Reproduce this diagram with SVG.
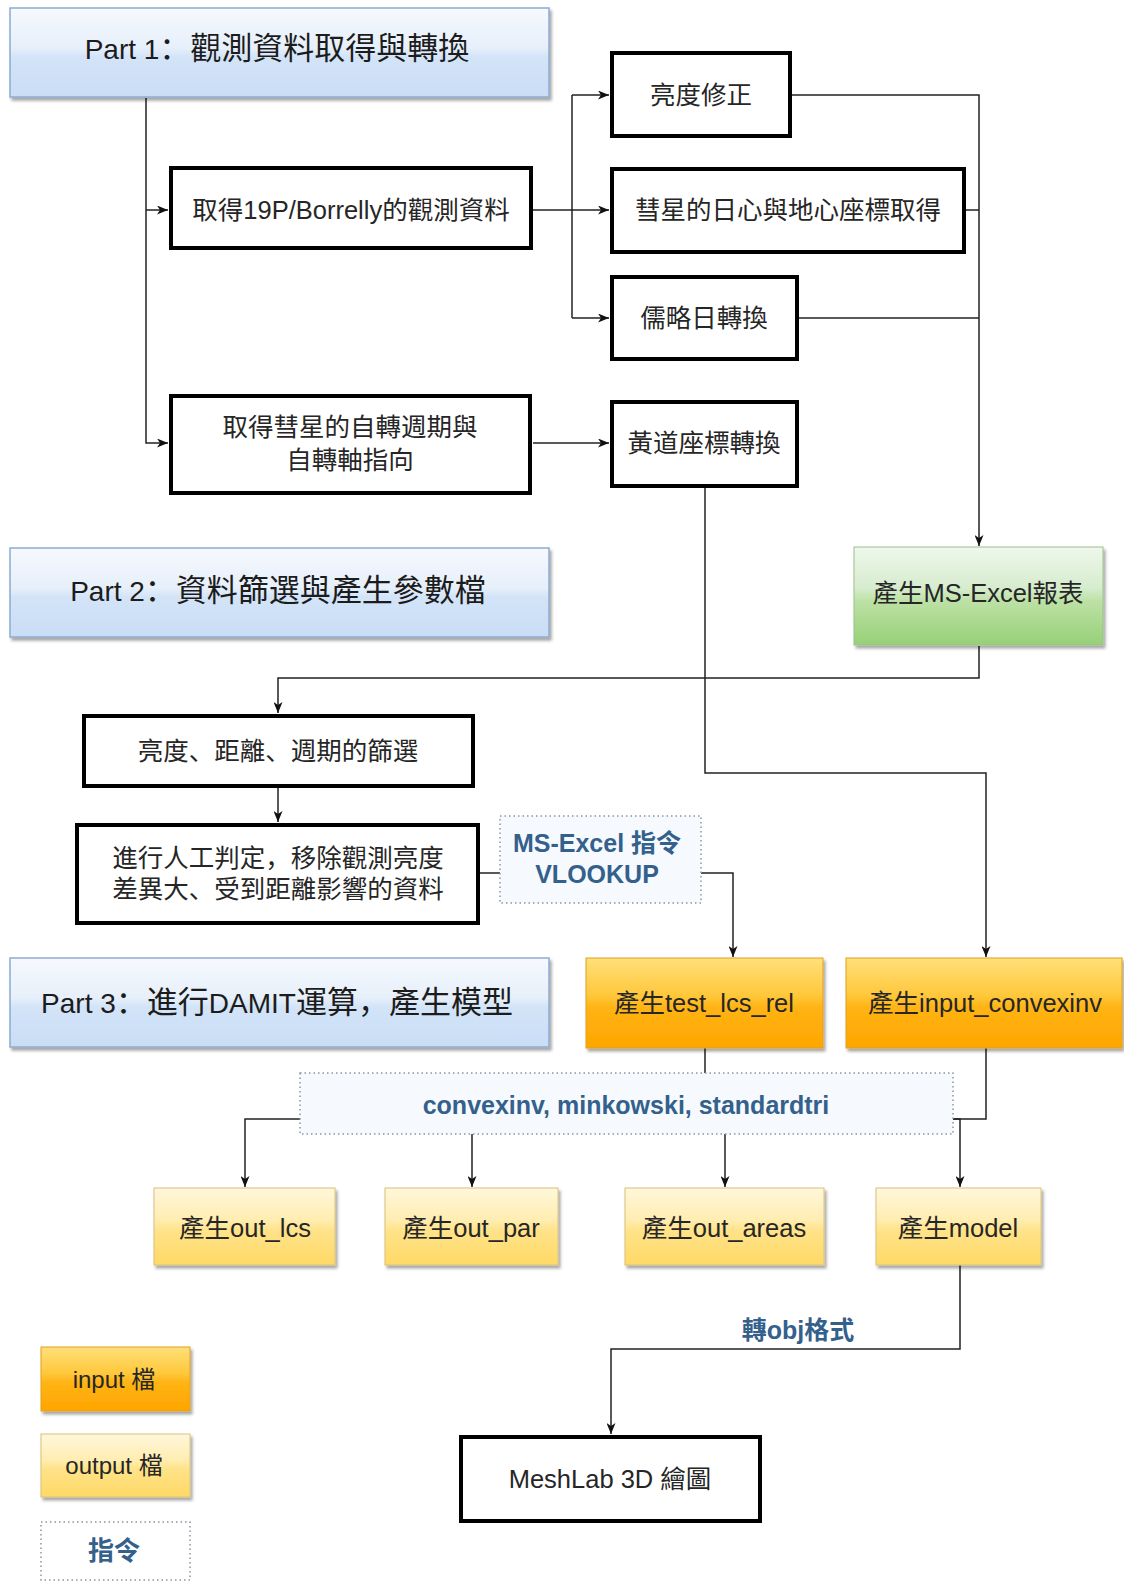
<svg xmlns="http://www.w3.org/2000/svg" width="1124" height="1582" viewBox="0 0 1124 1582">
<defs>
<linearGradient id="gBlue" x1="0" y1="0" x2="0" y2="1"><stop offset="0" stop-color="#f6f9fe"/><stop offset="0.45" stop-color="#e6effa"/><stop offset="0.55" stop-color="#d3e4f8"/><stop offset="1" stop-color="#c9ddf5"/></linearGradient>
<linearGradient id="gOrange" x1="0" y1="0" x2="0" y2="1"><stop offset="0" stop-color="#ffe07a"/><stop offset="0.42" stop-color="#ffc73a"/><stop offset="0.55" stop-color="#ffb414"/><stop offset="1" stop-color="#ffa500"/></linearGradient>
<linearGradient id="gYellow" x1="0" y1="0" x2="0" y2="1"><stop offset="0" stop-color="#fff7dc"/><stop offset="0.42" stop-color="#ffedb0"/><stop offset="0.55" stop-color="#ffe38a"/><stop offset="1" stop-color="#ffd966"/></linearGradient>
<linearGradient id="gGreen" x1="0" y1="0" x2="0" y2="1"><stop offset="0" stop-color="#eff7ec"/><stop offset="0.42" stop-color="#d6ecce"/><stop offset="0.55" stop-color="#bde1a5"/><stop offset="1" stop-color="#97d077"/></linearGradient>
<filter id="sh" x="-5%" y="-10%" width="115%" height="130%"><feDropShadow dx="2" dy="3" stdDeviation="1.5" flood-color="#000" flood-opacity="0.35"/></filter>
<marker id="ar" viewBox="0 0 11 9" refX="11" refY="4.5" markerWidth="11" markerHeight="9" markerUnits="userSpaceOnUse" orient="auto"><path d="M0,0 L11,4.5 L0,9 L3,4.5 z" fill="#111"/></marker>
<style>
.tx{font-family:"Liberation Sans","Noto Sans CJK SC",sans-serif;font-size:25.5px;fill:#262626;text-anchor:middle}
.hd{font-family:"Liberation Sans","Noto Sans CJK SC",sans-serif;font-size:28px;fill:#1c1c1c;text-anchor:middle}
.hk{font-size:31px}
.cmd{font-family:"Liberation Sans","Noto Sans CJK SC",sans-serif;font-size:25px;font-weight:bold;fill:#34608c;text-anchor:middle}
.wb{fill:#fff;stroke:#000;stroke-width:4}
.blue{fill:url(#gBlue);stroke:#8eaad0;stroke-width:1.5;filter:url(#sh)}
.orange{fill:url(#gOrange);stroke:#e0a020;stroke-width:1;filter:url(#sh)}
.yellow{fill:url(#gYellow);stroke:#d8c27a;stroke-width:1;filter:url(#sh)}
.green{fill:url(#gGreen);stroke:#9cc08a;stroke-width:1;filter:url(#sh)}
.dot{fill:#f6fafe;stroke:#8a96a2;stroke-width:1.5;stroke-dasharray:1.5 3}
.ln{fill:none;stroke:#222;stroke-width:1.5}
.la{fill:none;stroke:#222;stroke-width:1.5;marker-end:url(#ar)}
</style>
</defs>
<rect width="1124" height="1582" fill="#fff"/>

<g id="connectors">
<path class="la" d="M146 98 V443 H168"/>
<path class="la" d="M146 210 H168"/>
<path class="ln" d="M533 210 H572"/>
<path class="ln" d="M572 95 V318"/>
<path class="la" d="M572 95 H609"/>
<path class="la" d="M572 210 H609"/>
<path class="la" d="M572 318 H609"/>
<path class="la" d="M792 95 H979 V546"/>
<path class="ln" d="M966 210 H979"/>
<path class="ln" d="M799 318 H979"/>
<path class="la" d="M533 443 H609"/>
<path class="la" d="M979 646 V678 H278 V713"/>
<path class="la" d="M705 488 V773 H986 V957"/>
<path class="la" d="M278 788 V822"/>
<path class="ln" d="M480 873 H500"/>
<path class="la" d="M701 873 H733 V957"/>
<path class="ln" d="M705 1048 V1073"/>
<path class="ln" d="M986 1048 V1119 H953"/>
<path class="la" d="M300 1119 H245 V1187"/>
<path class="la" d="M472 1134 V1187"/>
<path class="la" d="M725 1134 V1187"/>
<path class="la" d="M953 1119 H960 V1187"/>
<path class="la" d="M960 1265 V1349 H611 V1434"/>
<text class="cmd" x="798" y="1339">轉obj格式</text>
</g>

<g id="part1"><rect class="blue" x="10" y="8" width="539" height="89"/><text class="hd" x="277" y="59">Part 1<tspan class="hk">：觀測資料取得與轉換</tspan></text></g>
<g id="part2"><rect class="blue" x="10" y="548" width="539" height="89"/><text class="hd" x="278" y="601">Part 2<tspan class="hk">：資料篩選與產生參數檔</tspan></text></g>
<g id="part3"><rect class="blue" x="10" y="958" width="539" height="89"/><text class="hd" x="277" y="1013">Part 3<tspan class="hk">：進行</tspan>DAMIT<tspan class="hk">運算，產生模型</tspan></text></g>

<g id="getObs"><rect class="wb" x="171" y="168" width="360" height="80"/><text class="tx" x="351" y="219">取得19P/Borrelly的觀測資料</text></g>
<g id="brightness"><rect class="wb" x="612" y="53" width="178" height="83"/><text class="tx" x="701" y="104">亮度修正</text></g>
<g id="coords"><rect class="wb" x="612" y="169" width="352" height="83"/><text class="tx" x="788" y="219">彗星的日心與地心座標取得</text></g>
<g id="julian"><rect class="wb" x="612" y="277" width="185" height="82"/><text class="tx" x="704" y="327">儒略日轉換</text></g>
<g id="rotation"><rect class="wb" x="171" y="396" width="359" height="97"/><text class="tx" x="350" y="436">取得彗星的自轉週期與</text><text class="tx" x="350" y="469">自轉軸指向</text></g>
<g id="ecliptic"><rect class="wb" x="612" y="402" width="185" height="84"/><text class="tx" x="704" y="452">黃道座標轉換</text></g>
<g id="excel"><rect class="green" x="854" y="547" width="249" height="98"/><text class="tx" x="978" y="602">產生MS-Excel報表</text></g>
<g id="filter"><rect class="wb" x="84" y="716" width="389" height="70"/><text class="tx" x="278" y="760">亮度、距離、週期的篩選</text></g>
<g id="manual"><rect class="wb" x="77" y="825" width="401" height="98"/><text class="tx" x="278" y="867">進行人工判定，移除觀測亮度</text><text class="tx" x="278" y="898">差異大、受到距離影響的資料</text></g>
<g id="vlookup"><rect class="dot" x="500" y="816" width="201" height="87"/><text class="cmd" x="597" y="852">MS-Excel 指令</text><text class="cmd" x="597" y="883">VLOOKUP</text></g>
<g id="testLcs"><rect class="orange" x="586" y="958" width="237" height="90"/><text class="tx" x="704" y="1012">產生test_lcs_rel</text></g>
<g id="inputConvex"><rect class="orange" x="846" y="958" width="276" height="90"/><text class="tx" x="985" y="1012">產生input_convexinv</text></g>
<g id="commands"><rect class="dot" x="300" y="1073" width="653" height="61"/><text class="cmd" x="626" y="1114">convexinv, minkowski, standardtri</text></g>
<g id="outLcs"><rect class="yellow" x="154" y="1188" width="181" height="77"/><text class="tx" x="245" y="1237">產生out_lcs</text></g>
<g id="outPar"><rect class="yellow" x="385" y="1188" width="173" height="77"/><text class="tx" x="471" y="1237">產生out_par</text></g>
<g id="outAreas"><rect class="yellow" x="625" y="1188" width="199" height="77"/><text class="tx" x="724" y="1237">產生out_areas</text></g>
<g id="model"><rect class="yellow" x="876" y="1188" width="165" height="77"/><text class="tx" x="958" y="1237">產生model</text></g>
<g id="meshlab"><rect class="wb" x="461" y="1437" width="299" height="84"/><text class="tx" x="610" y="1488">MeshLab 3D 繪圖</text></g>

<g id="legendInput"><rect class="orange" x="41" y="1347" width="149" height="64"/><text class="tx" x="114" y="1388" style="font-size:24px">input 檔</text></g>
<g id="legendOutput"><rect class="yellow" x="41" y="1434" width="149" height="63"/><text class="tx" x="114" y="1474" style="font-size:24px">output 檔</text></g>
<g id="legendCmd"><rect class="dot" x="41" y="1522" width="149" height="58" style="fill:#fff"/><text class="cmd" x="114" y="1560" style="font-size:26px">指令</text></g>
</svg>
